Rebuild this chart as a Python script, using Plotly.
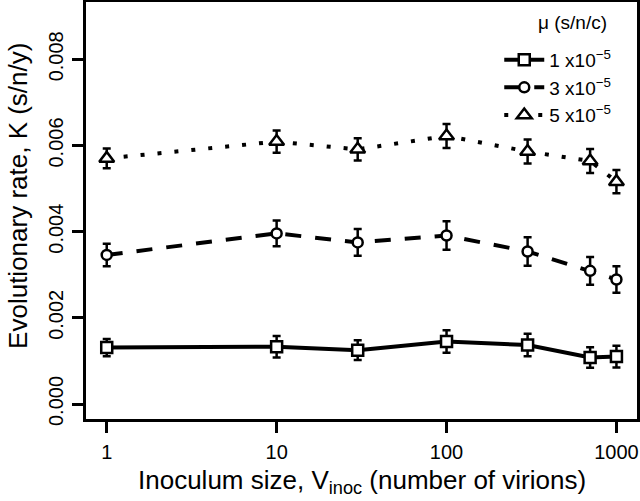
import plotly.graph_objects as go

# Data
inoculum = [1, 10, 30, 100, 300, 700, 1000]

k_mu1 = [0.00131, 0.00133, 0.00125, 0.00145, 0.00137, 0.00108, 0.00110]
err_mu1 = [0.00020, 0.00025, 0.00023, 0.00026, 0.00026, 0.00024, 0.00025]

k_mu3 = [0.00346, 0.00396, 0.00375, 0.00391, 0.00354, 0.00309, 0.00289]
err_mu3 = [0.00026, 0.00030, 0.00031, 0.00033, 0.00033, 0.00032, 0.00031]

k_mu5 = [0.00570, 0.00609, 0.00591, 0.00622, 0.00586, 0.00564, 0.00516]
err_mu5 = [0.00023, 0.00026, 0.00026, 0.00028, 0.00028, 0.00028, 0.00027]

series_names = ["1 x10<sup>\u22125</sup>", "3 x10<sup>\u22125</sup>", "5 x10<sup>\u22125</sup>"]

x_tickvals = [1, 10, 100, 1000]
x_ticktext = ["1", "10", "100", "1000"]
y_tickvals = [0.000, 0.002, 0.004, 0.006, 0.008]
y_ticktext = ["0.000", "0.002", "0.004", "0.006", "0.008"]

FONT = "Liberation Sans, Arial, sans-serif"

fig = go.Figure()

styles = [
    (k_mu1, err_mu1, "solid", "square", 11),
    (k_mu3, err_mu3, "16px,14px", "circle", 10),
    (k_mu5, err_mu5, "4px,13px", "triangle-up", 13),
]

for (vals, errs, dash, sym, size), name in zip(styles, series_names):
    fig.add_trace(go.Scatter(
        x=inoculum, y=vals, name=name, mode="lines+markers",
        line=dict(color="black", width=4, dash=dash),
        marker=dict(symbol=sym, size=size, color="white",
                    line=dict(color="black", width=2.5)),
        error_y=dict(type="data", array=errs, visible=True,
                     color="black", thickness=2.5, width=4),
    ))

fig.update_layout(
    width=640, height=501,
    margin=dict(l=86, r=3, t=2, b=82, autoexpand=False),
    paper_bgcolor="white", plot_bgcolor="white",
    font=dict(family=FONT, color="black", size=20),
    showlegend=True,
    legend=dict(
        x=0.75, y=0.907, xanchor="left", yanchor="top",
        bgcolor="rgba(0,0,0,0)", font=dict(size=19, family=FONT),
        itemwidth=40, tracegroupgap=0,
    ),
    xaxis=dict(
        type="log", range=[-0.122, 3.121],
        tickvals=x_tickvals, ticktext=x_ticktext,
        ticks="outside", ticklen=11, tickwidth=2.5, tickcolor="black",
        showline=True, linecolor="black", linewidth=2.5, mirror=True,
        showgrid=False, zeroline=False, automargin=False,
        tickfont=dict(size=20, family=FONT), ticklabelstandoff=2,
    ),
    yaxis=dict(
        range=[-0.000348, 0.00933],
        tickvals=y_tickvals, ticktext=y_ticktext,
        ticks="outside", ticklen=11, tickwidth=2.5, tickcolor="black",
        showline=True, linecolor="black", linewidth=2.5, mirror=True,
        showgrid=False, zeroline=False, tickangle=-90, automargin=False,
        tickfont=dict(size=20, family=FONT), ticklabelstandoff=1,
    ),
    annotations=[
        dict(text="Inoculum size, V<sub>inoc</sub> (number of virions)",
             xref="paper", yref="paper", x=0.5, y=-0.151,
             xanchor="center", yanchor="middle", showarrow=False,
             font=dict(size=26, family=FONT)),
        dict(text="Evolutionary rate, K (s/n/y)",
             xref="paper", yref="paper", x=-0.1234, y=0.535,
             xanchor="center", yanchor="middle", showarrow=False,
             textangle=-90, font=dict(size=26, family=FONT)),
        dict(text="\u03bc (s/n/c)",
             xref="paper", yref="paper", x=(572 - 86) / 551, y=(419 - 22) / 417,
             xanchor="center", yanchor="middle", showarrow=False,
             font=dict(size=19, family=FONT)),
    ],
)

fig.write_html("out.html", config={"displayModeBar": False},
               post_script="document.body.style.margin='0';")
